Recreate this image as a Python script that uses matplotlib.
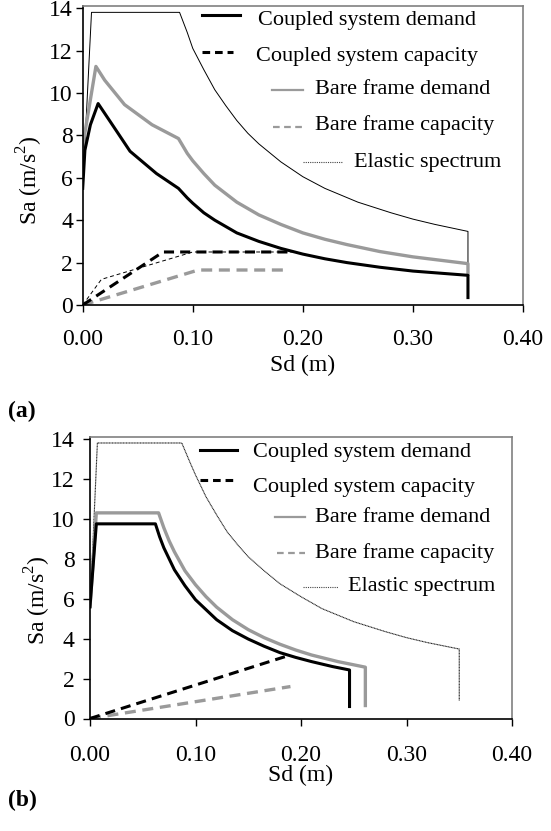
import matplotlib.pyplot as plt
from matplotlib.lines import Line2D

plt.rcParams['font.family'] = 'Liberation Serif'
plt.rcParams['mathtext.fontset'] = 'custom'
plt.rcParams['mathtext.rm'] = 'Liberation Serif'

W, H = 551, 831

# ---- (a) data ----
elastic_sd_a = [0, 0.008, 0.088, 0.095, 0.10, 0.11, 0.12, 0.13, 0.14, 0.15, 0.16, 0.18, 0.20,
                0.22, 0.25, 0.28, 0.30, 0.32, 0.35, 0.35]
elastic_sa_a = [5.5, 13.8, 13.8, 12.85, 12.1, 11.1, 10.15, 9.4, 8.7, 8.1, 7.6, 6.75, 6.05,
                5.5, 4.85, 4.35, 4.05, 3.8, 3.47, 2.0]

bare_dem_sd_a = [0, 0.012, 0.020, 0.038, 0.063, 0.087, 0.095, 0.10, 0.11, 0.12, 0.13, 0.14,
                 0.16, 0.18, 0.20, 0.22, 0.24, 0.27, 0.30, 0.35, 0.35]
bare_dem_sa_a = [7.5, 11.25, 10.6, 9.45, 8.5, 7.85, 7.15, 6.8, 6.2, 5.65, 5.25, 4.85,
                 4.25, 3.8, 3.4, 3.1, 2.85, 2.52, 2.27, 1.95, 1.45]

coup_dem_sd_a = [0, 0.002, 0.007, 0.014, 0.025, 0.043, 0.067, 0.087, 0.095, 0.10, 0.11, 0.12,
                 0.13, 0.14, 0.16, 0.18, 0.20, 0.22, 0.24, 0.27, 0.30, 0.35, 0.35]
coup_dem_sa_a = [5.5, 7.3, 8.5, 9.5, 8.65, 7.25, 6.2, 5.5, 5.05, 4.8, 4.35, 4.0,
                 3.7, 3.4, 3.0, 2.67, 2.4, 2.18, 2.0, 1.78, 1.6, 1.4, 0.35]

coup_cap_sd_a = [0, 0.073, 0.19]
coup_cap_sa_a = [0, 2.5, 2.5]

thin_cap_sd_a = [0, 0.017, 0.10, 0.19]
thin_cap_sa_a = [0, 1.21, 2.5, 2.5]

bare_cap_sd_a = [0, 0.105, 0.185]
bare_cap_sa_a = [0, 1.65, 1.65]

# ---- (b) data ----
elastic_sd_b = [0, 0.007, 0.087, 0.095, 0.10, 0.11, 0.12, 0.13, 0.14, 0.15, 0.165, 0.18, 0.20,
                0.22, 0.25, 0.28, 0.30, 0.32, 0.35, 0.35]
elastic_sa_b = [5.5, 13.8, 13.8, 12.8, 12.2, 11.1, 10.2, 9.35, 8.7, 8.1, 7.4, 6.75, 6.1,
                5.5, 4.85, 4.35, 4.05, 3.8, 3.48, 0.9]

coup_dem_sd_b = [0, 0.006, 0.062, 0.066, 0.07, 0.075, 0.08, 0.09, 0.10, 0.11, 0.12, 0.135,
                 0.15, 0.165, 0.18, 0.195, 0.21, 0.23, 0.246, 0.246]
coup_dem_sa_b = [5.6, 9.75, 9.75, 9.1, 8.55, 8.0, 7.45, 6.65, 5.95, 5.45, 4.95, 4.4,
                 3.98, 3.62, 3.3, 3.06, 2.85, 2.6, 2.43, 0.6]

bare_dem_sd_b = [0, 0.006, 0.065, 0.07, 0.075, 0.08, 0.09, 0.10, 0.11, 0.12, 0.135, 0.15,
                 0.165, 0.18, 0.195, 0.21, 0.235, 0.261, 0.261]
bare_dem_sa_b = [5.6, 10.3, 10.3, 9.55, 8.9, 8.35, 7.4, 6.7, 6.1, 5.58, 4.95, 4.45,
                 4.05, 3.72, 3.43, 3.18, 2.85, 2.57, 0.65]

coup_cap_sd_b = [0, 0.185]
coup_cap_sa_b = [0, 3.1]

bare_cap_sd_b = [0, 0.19]
bare_cap_sa_b = [0, 1.6]

labels = ["Coupled system demand", "Coupled system capacity", "Bare frame demand",
          "Bare frame capacity", "Elastic spectrum"]

xticks = [0, 0.1, 0.2, 0.3, 0.4]
yticks = [0, 2, 4, 6, 8, 10, 12, 14]

GRAY = '#9a9a9a'
DASH = (3.3, 2)

fig = plt.figure(figsize=(W / 100, H / 100), dpi=100)


def setup(ax, xpad, ypad):
    ax.set_xlim(0, 0.40)
    ax.set_ylim(0, 14.1)
    ax.set_xticks(xticks)
    ax.set_xticklabels(['%.2f' % t for t in xticks])
    ax.set_yticks(yticks)
    ax.tick_params(axis='both', labelsize=17, length=5, width=1, direction='out')
    ax.tick_params(axis='x', pad=xpad)
    ax.tick_params(axis='y', pad=ypad)
    for s in ['top', 'right']:
        ax.spines[s].set_color('#808080')
        ax.spines[s].set_linewidth(1.2)
    for s in ['left', 'bottom']:
        ax.spines[s].set_color('black')
        ax.spines[s].set_linewidth(1.2)


def legend(rows):
    # rows: (handle x0, x1, y, text x, text y, line style kwargs)
    for (x0, x1, hy, tx, ty, kw), lab in zip(rows, labels):
        fig.add_artist(Line2D([x0 / W, x1 / W], [1 - hy / H, 1 - hy / H],
                              transform=fig.transFigure, **kw))
        fig.text(tx / W, 1 - ty / H, lab, fontsize=16, va='center', ha='left')


k_dem = dict(color='black', lw=2.2)
k_cap = dict(color='black', lw=2.2, dashes=(2.5, 1.6))
k_bdem = dict(color=GRAY, lw=1.6)
k_bcap = dict(color=GRAY, lw=1.6, dashes=(3, 2))
k_el = dict(color='#444444', lw=0.8, linestyle=(0, (1, 1)))

# ---------- (a) ----------
ax1 = fig.add_axes([82.7 / W, 1 - 305 / H, (523 - 82.7) / W, (305 - 6) / H])
ax1.plot(elastic_sd_a, elastic_sa_a, color='black', lw=0.7)
ax1.plot(bare_dem_sd_a, bare_dem_sa_a, color=GRAY, lw=2.4)
ax1.plot(coup_dem_sd_a, coup_dem_sa_a, color='black', lw=2.2)
ax1.plot(thin_cap_sd_a, thin_cap_sa_a, color='black', lw=0.7, dashes=(4, 3))
ax1.plot(bare_cap_sd_a, bare_cap_sa_a, color=GRAY, lw=2.4, dashes=DASH)
ax1.plot(coup_cap_sd_a, coup_cap_sa_a, color='black', lw=2.2, dashes=DASH)
setup(ax1, 12, 2)
ax1.set_xlabel('Sd (m)', fontsize=17, labelpad=4)
fig.text(30 / W, 1 - 180 / H, 'Sa (m/s$^2$)', fontsize=17, rotation=90, ha='center', va='center')
fig.text(8 / W, 1 - 411 / H, '(a)', fontsize=17, fontweight='bold', ha='left', va='center')

legend([(202, 240, 15, 258, 20, k_dem),
        (202, 233, 52, 256, 57, k_cap),
        (272, 303, 90, 315, 90, k_bdem),
        (273, 303, 127, 315, 125, k_bcap),
        (303, 342, 162, 354, 162, k_el)])

# ---------- (b) ----------
ax2 = fig.add_axes([90 / W, 1 - 718.5 / H, (512 - 90) / W, (718.5 - 437) / H])
ax2.plot(elastic_sd_b, elastic_sa_b, color='#222222', lw=0.8, linestyle=(0, (1, 0.4)))
ax2.plot(bare_dem_sd_b, bare_dem_sa_b, color=GRAY, lw=2.4)
ax2.plot(coup_dem_sd_b, coup_dem_sa_b, color='black', lw=2.2)
ax2.plot(bare_cap_sd_b, bare_cap_sa_b, color=GRAY, lw=2.4, dashes=DASH)
ax2.plot(coup_cap_sd_b, coup_cap_sa_b, color='black', lw=2.2, dashes=DASH)
setup(ax2, 14, 6)
ax2.set_xlabel('Sd (m)', fontsize=17, labelpad=-1)
fig.text(38 / W, 1 - 600 / H, 'Sa (m/s$^2$)', fontsize=17, rotation=90, ha='center', va='center')
fig.text(8 / W, 1 - 800 / H, '(b)', fontsize=17, fontweight='bold', ha='left', va='center')

legend([(200, 237, 450, 253, 453, k_dem),
        (200, 233, 480, 253, 488, k_cap),
        (275, 305, 517, 315, 517, k_bdem),
        (277, 305, 553, 315, 553, k_bcap),
        (303, 338, 587, 348, 587, k_el)])

fig.savefig('out.png', dpi=100)
